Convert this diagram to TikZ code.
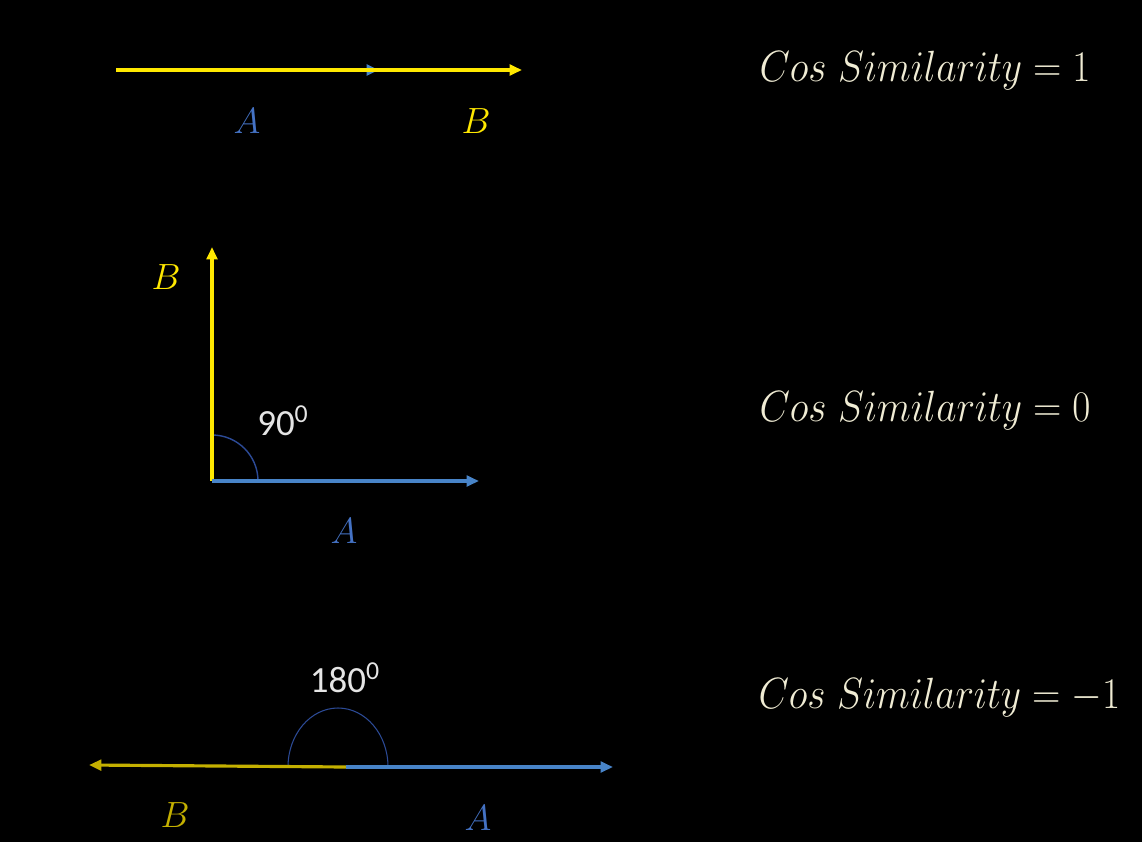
\documentclass[tikz,border=0pt]{standalone}
\usepackage{fontspec}
\newfontfamily\carlito{Carlito}
\usetikzlibrary{arrows.meta}
\definecolor{vecyellow}{RGB}{255,232,0}
\definecolor{vecolive}{RGB}{196,176,0}
\definecolor{vecblue}{RGB}{72,132,200}
\definecolor{lblblue}{RGB}{68,114,196}
\definecolor{cream}{RGB}{240,236,212}
\definecolor{arcblue}{RGB}{44,74,150}

\tikzset{
  vec/.style={line width=1.8pt, ->},
  veclbl/.style={font=\fontsize{20}{24}\selectfont},
  simlbl/.style={text=cream, font=\fontsize{24}{28}\selectfont, anchor=west, xscale=0.9},
  anglbl/.style={text=white!90!black, font=\carlito\fontsize{21}{25}\selectfont},
  anglearc/.style={draw=arcblue, line width=0.8pt}
}

\begin{document}
\begin{tikzpicture}[x=0.02cm, y=-0.02cm, >={Triangle[length=7pt,width=6pt]}]
    % fond noir
    \fill[black] (0,0) rectangle (1142,842);
    \useasboundingbox (0,0) rectangle (1142,842);

    % cas 1 : meme direction
    \coordinate (o1) at (116,70);
    \coordinate (a1) at (379,70);
    \coordinate (b1) at (522,70);
    \draw[vec, vecblue] (o1) -- (a1);
    \draw[vec, vecyellow] (o1) -- (b1);
    \node[veclbl, text=lblblue] (la1) at (247,121) {$A$};
    \node[veclbl, text=vecyellow] (lb1) at (476,121) {$B$};
    \node[simlbl] (s1) at (754,71) {$Cos\ Similarity = 1$};

    % cas 2 : angle droit
    \coordinate (o2) at (212,481);
    \coordinate (a2) at (479,481);
    \coordinate (b2) at (212,247);
    \draw[anglearc] (258,481) arc[start angle=0, end angle=-90, radius=46];
    \draw[vec, vecyellow] (o2) -- (b2);
    \draw[vec, vecblue] (o2) -- (a2);
    \node[veclbl, text=vecyellow] (lb2) at (166,277) {$B$};
    \node[veclbl, text=lblblue] (la2) at (344,531) {$A$};
    \node[anglbl] (g2) at (283,421) {90\textsuperscript{0}};
    \node[simlbl] (s2) at (754,411) {$Cos\ Similarity = 0$};

    % cas 3 : sens opposes
    \coordinate (o3) at (346,767);
    \coordinate (a3) at (613,767);
    \coordinate (b3) at (89,765);
    \draw[anglearc, line width=0.6pt] (288,767) arc[start angle=180, end angle=360, x radius=50, y radius=59];
    \draw[vec, vecolive] (o3) -- (b3);
    \draw[vec, vecblue] (o3) -- (a3);
    \node[veclbl, text=vecolive] (lb3) at (175,815) {$B$};
    \node[veclbl, text=lblblue] (la3) at (478,818) {$A$};
    \node[anglbl] (g3) at (345,678) {180\textsuperscript{0}};
    \node[simlbl] (s3) at (753,698) {$Cos\ Similarity = -1$};
\end{tikzpicture}
\end{document}
